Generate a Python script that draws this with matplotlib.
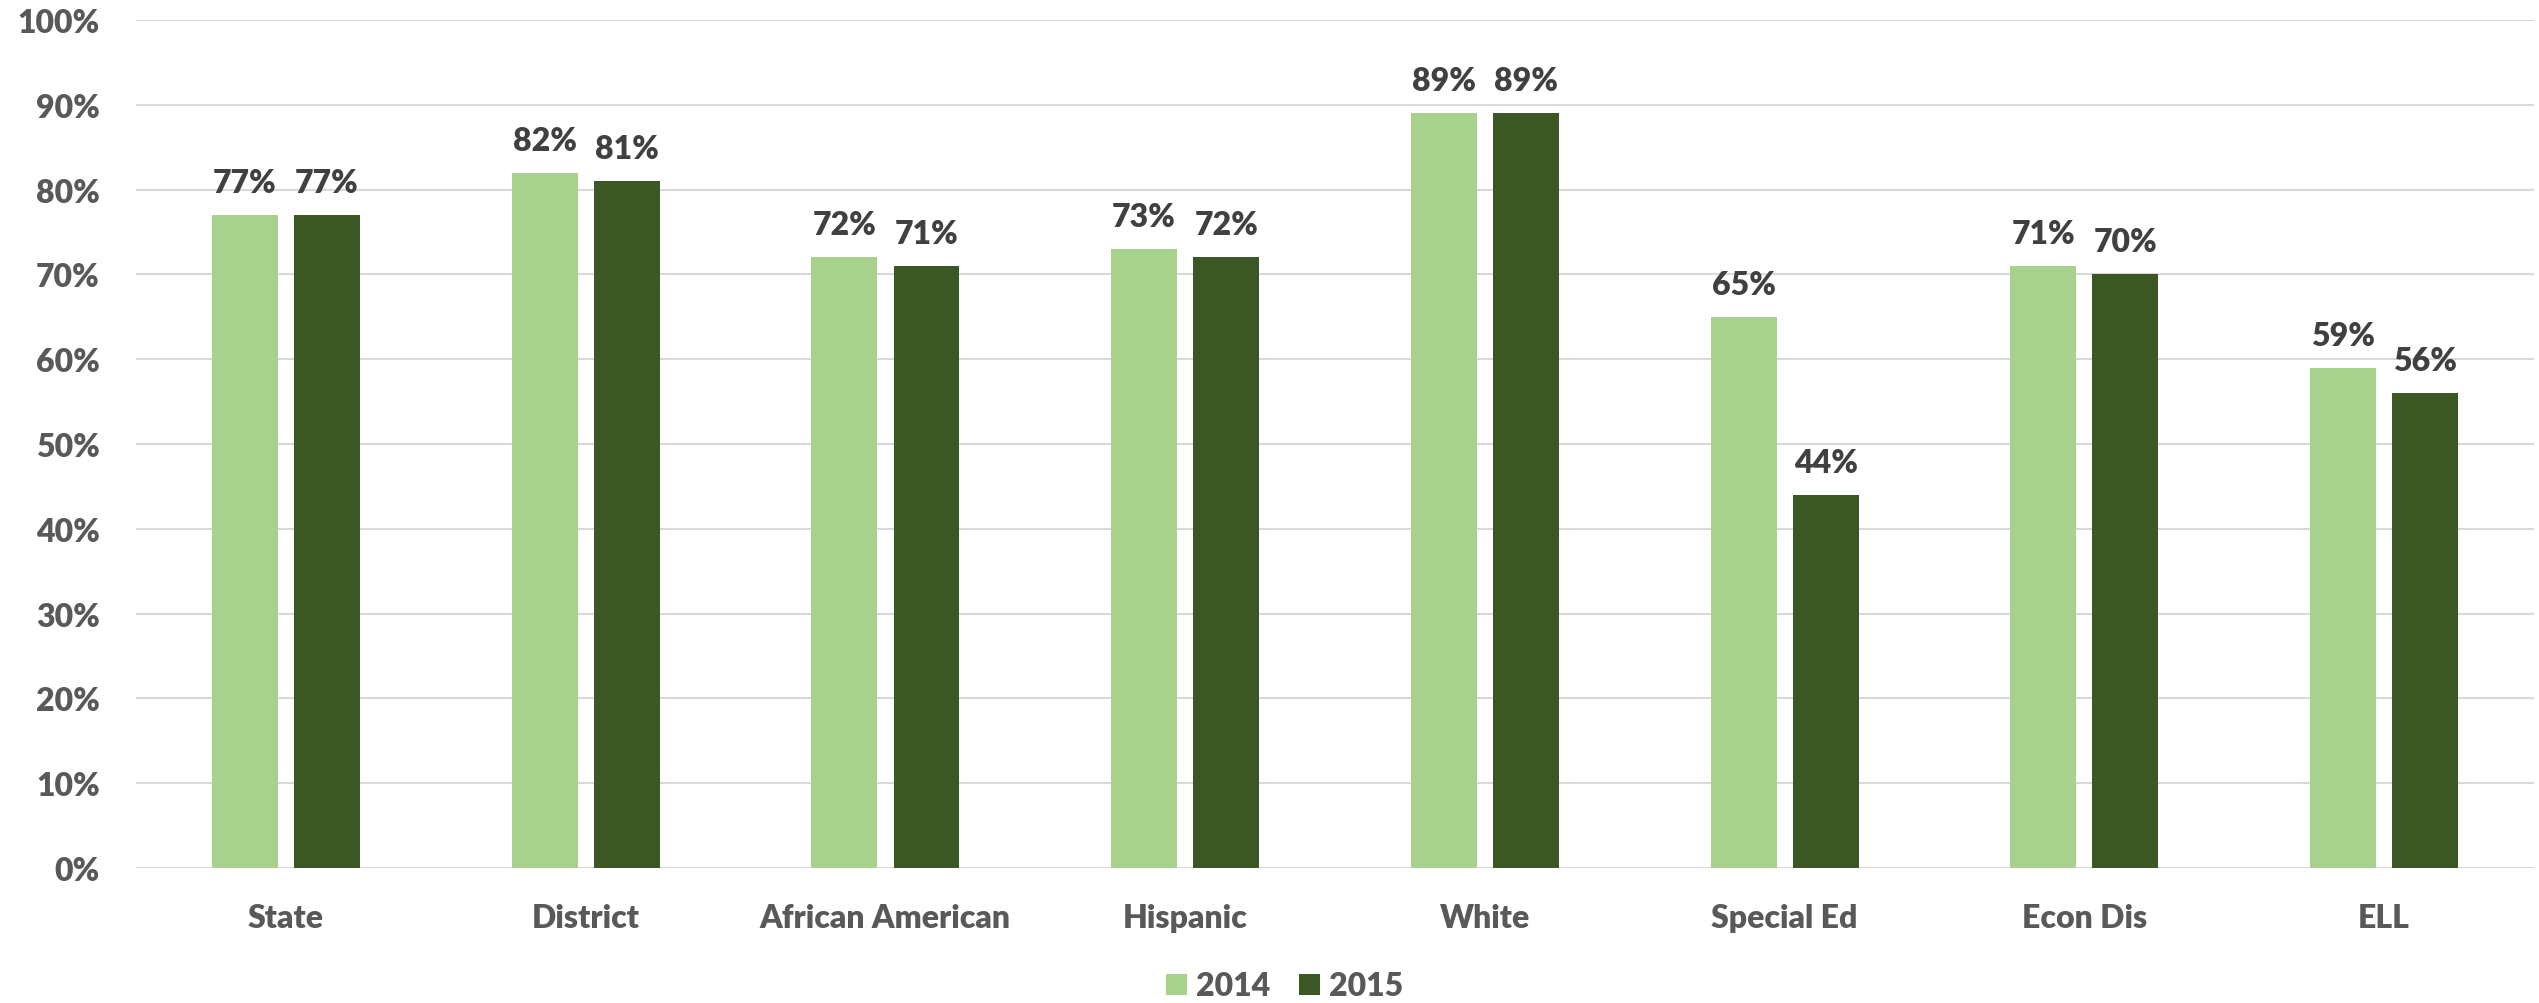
import numpy as np
import matplotlib.pyplot as plt

categories = ["State", "District", "African American", "Hispanic", "White",
              "Special Ed", "Econ Dis", "ELL"]
y2014 = [77, 82, 72, 73, 89, 65, 71, 59]
y2015 = [77, 81, 71, 72, 89, 44, 70, 56]

plt.rcParams['font.family'] = ['Lato', 'DejaVu Sans']
txt = '#595959'
c14 = '#A9D18E'
c15 = '#3A5724'
wt = 'heavy'

fig = plt.figure(figsize=(25.39, 10.04), dpi=100)
ax = fig.add_axes([0.0536, 0.1345, 0.9444, 0.8445])

x = np.arange(len(categories))
w = 0.22
off = 0.137
b1 = ax.bar(x - off, y2014, w, color=c14, label='2014', zorder=3)
b2 = ax.bar(x + off, y2015, w, color=c15, label='2015', zorder=3)

for bars in (b1, b2):
    for r in bars:
        ax.annotate(f"{r.get_height():.0f}%", (r.get_x() + r.get_width() / 2, r.get_height()),
                    xytext=(0, 13), textcoords='offset points', ha='center', va='bottom',
                    fontsize=23, fontweight=wt, color='#404040')

ax.set_xlim(-0.5, len(categories) - 0.5)
ax.set_ylim(0, 100)
ax.set_yticks(range(0, 101, 10))
ax.set_yticklabels([f"{v}%" for v in range(0, 101, 10)])
ax.set_xticks(x)
ax.set_xticklabels(categories)
ax.tick_params(axis='both', length=0, labelsize=23, colors=txt)
ax.tick_params(axis='x', pad=25)
ax.tick_params(axis='y', pad=26)
for lab in ax.get_xticklabels() + ax.get_yticklabels():
    lab.set_fontweight(wt)

ax.grid(axis='y', color='#D9D9D9', linewidth=1.5, zorder=0)
for s in ax.spines.values():
    s.set_visible(False)

leg = fig.legend(handles=[b1, b2], loc='center', bbox_to_anchor=(0.506, 0.017), ncol=2,
                 frameon=False, fontsize=23, handlelength=0.65, handleheight=0.65,
                 handletextpad=0.3, columnspacing=0.9)
for t in leg.get_texts():
    t.set_color(txt)
    t.set_fontweight(wt)

fig.savefig('out.png', dpi=100)
